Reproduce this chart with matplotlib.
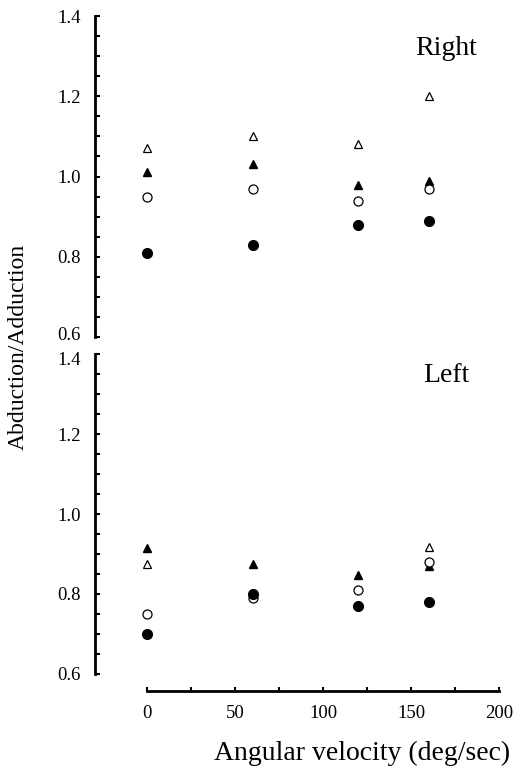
import matplotlib.pyplot as plt
import matplotlib.transforms as mtransforms
import numpy as np

plt.rcParams['font.family'] = ['Liberation Serif', 'DejaVu Serif']

# angular velocity (deg/sec)
speeds = [0, 60, 120, 160]

# Right side
right_open_tri = [1.07, 1.10, 1.08, 1.20]
right_fill_tri = [1.01, 1.03, 0.98, 0.99]
right_open_circ = [0.95, 0.97, 0.94, 0.97]
right_fill_circ = [0.81, 0.83, 0.88, 0.89]

# Left side (nan where the point is hidden)
left_open_tri = [0.876, np.nan, np.nan, 0.917]
left_fill_tri = [0.915, 0.876, 0.847, 0.87]
left_open_circ = [0.75, 0.79, 0.81, 0.88]
left_fill_circ = [0.70, 0.80, 0.77, 0.78]

yticks = [0.6, 0.8, 1.0, 1.2, 1.4]
xticks = [0, 50, 100, 150, 200]

W, H = 517, 766
fig = plt.figure(figsize=(W / 100, H / 100), dpi=100)


def px_axes(left, top, right, bottom):
    return fig.add_axes([left / W, 1 - bottom / H, (right - left) / W, (bottom - top) / H])


ax1 = px_axes(95, 16, 510, 337)
ax2 = px_axes(95, 354, 510, 674)


def draw(ax, otri, ftri, ocirc, fcirc):
    ax.plot(speeds, otri, ls='none', marker='^', ms=6, mfc='white', mec='black', mew=0.9)
    ax.plot(speeds, ftri, ls='none', marker='^', ms=6, mfc='black', mec='black')
    ax.plot(speeds, ocirc, ls='none', marker='o', ms=6.5, mfc='white', mec='black', mew=0.9)
    ax.plot(speeds, fcirc, ls='none', marker='o', ms=7, mfc='black', mec='black')
    ax.set_xlim(-29.5, 206)
    ax.set_ylim(0.6, 1.4)
    ax.spines['top'].set_visible(False)
    ax.spines['right'].set_visible(False)
    ax.spines['left'].set_linewidth(2)
    ax.spines['left'].set_bounds(0.6, 1.4)
    ax.set_yticks(yticks)
    ax.set_yticklabels(['%.1f' % v for v in yticks])
    ax.set_yticks(np.arange(0.6, 1.41, 0.05), minor=True)
    ax.tick_params(axis='y', which='both', direction='in', length=3.5, width=1.5,
                   labelsize=13.5, pad=10)
    ax.patch.set_alpha(0)


draw(ax1, right_open_tri, right_fill_tri, right_open_circ, right_fill_circ)
draw(ax2, left_open_tri, left_fill_tri, left_open_circ, left_fill_circ)

# nudge the two crowded labels where the panels meet
for lab, dy in [(ax1.get_yticklabels()[0], 4), (ax2.get_yticklabels()[-1], -4)]:
    lab.set_transform(lab.get_transform() +
                      mtransforms.ScaledTranslation(0, dy / 100, fig.dpi_scale_trans))

ax1.spines['bottom'].set_visible(False)
ax1.set_xticks([])

ax2.spines['bottom'].set_position(('outward', 12))
ax2.spines['bottom'].set_bounds(0, 200)
ax2.spines['bottom'].set_linewidth(2)
ax2.set_xticks(xticks)
ax2.set_xticks(np.arange(0, 201, 25), minor=True)
ax2.tick_params(axis='x', which='both', direction='in', length=3, width=1.5,
                labelsize=13.5, pad=10)

ax1.text(170, 1.303, 'Right', fontsize=20, ha='center', va='baseline')
ax2.text(170, 1.33, 'Left', fontsize=20, ha='center', va='baseline')

fig.text(18 / W, 1 - 347 / H, 'Abduction/Adduction', rotation=90,
         ha='center', va='center', fontsize=17)
fig.text(362 / W, 1 - 753 / H, 'Angular velocity (deg/sec)',
         ha='center', va='center', fontsize=20)

fig.savefig('out.png', dpi=100)
